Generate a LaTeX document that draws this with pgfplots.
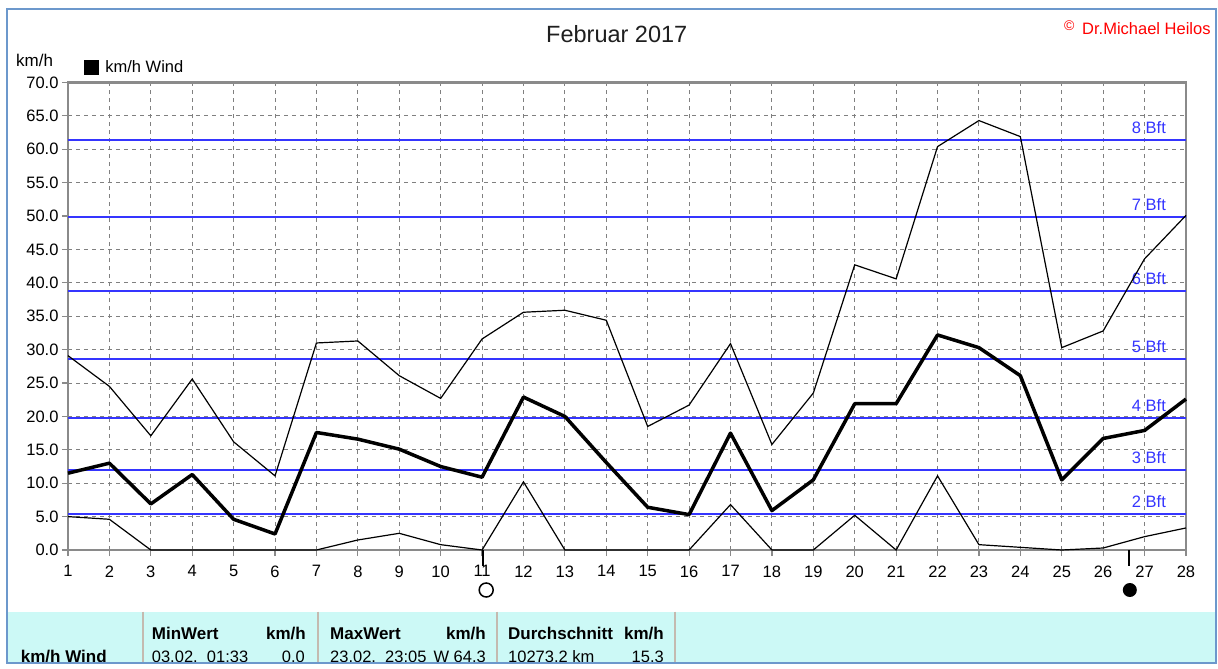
\documentclass[border=0pt]{standalone}
\usepackage{pgfplots}
\usepackage{pgfplotstable}
\usepackage{fontspec}
\setmainfont{Liberation Sans}
\pgfplotsset{compat=1.18}

\definecolor{frameblue}{HTML}{6C98CC}
\definecolor{axisgray}{HTML}{8A8A8A}
\definecolor{gridgray}{HTML}{808080}
\definecolor{bftblue}{HTML}{3535FF}
\definecolor{tablecyan}{HTML}{CCF9F6}
\definecolor{sepgray}{HTML}{C4BAB0}

% Tag, Max, Mittel, Min (km/h)
\pgfplotstableread{
day max mean min
1  29.1 11.5 5.0
2  24.5 13.0 4.6
3  17.1  6.9 0.0
4  25.6 11.3 0.0
5  16.2  4.6 0.0
6  11.1  2.4 0.0
7  31.0 17.6 0.0
8  31.3 16.6 1.5
9  26.1 15.1 2.5
10 22.7 12.5 0.8
11 31.6 10.9 0.0
12 35.6 22.9 10.2
13 35.9 20.0 0.0
14 34.4 13.1 0.0
15 18.5  6.4 0.0
16 21.7  5.3 0.0
17 30.9 17.5 6.8
18 15.8  5.9 0.0
19 23.5 10.5 0.0
20 42.7 21.9 5.2
21 40.6 21.9 0.0
22 60.4 32.2 11.1
23 64.3 30.3 0.8
24 61.9 26.1 0.4
25 30.3 10.5 0.0
26 32.8 16.7 0.3
27 43.6 17.9 2.0
28 50.1 22.6 3.3
}\wind

\newcommand{\fs}{\fontsize{16.5}{18}\selectfont}
\newcommand{\bft}[2]{%
  \draw[bftblue, line width=2pt] (axis cs:1,#1) -- (axis cs:28,#1);
  \node[anchor=base east, text=bftblue, font=\fs, inner sep=0pt] at (axis cs:27.52,#1) [yshift=6.5pt] {#2 Bft};}

\begin{document}
\begin{tikzpicture}
\fill[white] (0pt,0pt) rectangle (1218pt,-669pt);
\begin{axis}[
    at={(68pt,-550pt)}, anchor=south west,
    scale only axis, width=1118pt, height=467.5pt,
    xmin=1, xmax=28, ymin=0, ymax=70,
    xtick={1,...,28}, ytick={0,5,...,70},
    xtick pos=bottom, ytick pos=left,
    tick align=outside, major tick length=6pt,
    tick style={axisgray, line width=1.2pt},
    axis line style={draw=axisgray, line width=2.2pt},
    grid=major,
    major grid style={gridgray, line width=1pt, dash pattern=on 4pt off 4pt},
    ticklabel style={font=\fs},
    xticklabel style={yshift=-6pt},
    /pgf/number format/assume math mode=true,
    yticklabel style={/pgf/number format/.cd, fixed, fixed zerofill, precision=1},
    clip=false,
    legend style={draw=none, fill=none, inner sep=0pt, font=\fs,
        at={(axis description cs:0.0143,1.0332)}, anchor=west},
    legend image code/.code={\fill[black] (0pt,-7pt) rectangle (14pt,7pt);
        \path[draw=none] (14pt,0pt) -- (19pt,0pt);},
]
\bft{5.4}{2}
\bft{12.0}{3}
\bft{19.8}{4}
\bft{28.6}{5}
\bft{38.8}{6}
\bft{49.9}{7}
\bft{61.4}{8}
\addplot[black, line width=1.2pt, forget plot] table[x=day, y=max] {\wind};
\addplot[black, line width=1.2pt, forget plot] table[x=day, y=min] {\wind};
\addplot[black, line width=3.5pt, line join=round, forget plot] table[x=day, y=mean] {\wind};
\addlegendimage{black}
\addlegendentry{km/h Wind}
% Mondphasen
\draw[black, line width=1.5pt] (axis cs:11.02,0) -- ++(0pt,-16pt);
\draw[black, line width=1.5pt] (axis cs:11.1,0) ++(0pt,-40pt) circle[radius=7pt];
\draw[black, line width=1.5pt] (axis cs:26.62,0) -- ++(0pt,-16pt);
\fill[black] (axis cs:26.62,0) ++(1pt,-40pt) circle[radius=7pt];
\end{axis}

\begin{scope}[x=1pt, y=-1pt]
\node[anchor=base west, inner sep=0pt, text=black!88, font=\fontsize{23.5}{26}\selectfont] at (546,42.3) {Februar 2017};
\node[anchor=base west, inner sep=0pt, text=red, font=\fs] at (1082,34.3) {Dr.Michael Heilos};
\node[anchor=base west, inner sep=0pt, text=red, font=\fontsize{14}{15}\selectfont] at (1064,31) {©};
\node[anchor=base west, inner sep=0pt, font=\fontsize{17}{18}\selectfont] at (16,66.7) {km/h};
% Tabelle
\begin{scope}
\clip (0,0) rectangle (1218,663);
\fill[tablecyan] (8,611.5) rectangle (1216,663);
\foreach \sx in {143,318,497,675} \draw[sepgray, line width=2pt] (\sx,611.5) -- (\sx,663);
\begin{scope}[every node/.style={inner sep=0pt, font=\fs}]
\node[anchor=base west, font=\fontsize{17}{18}\selectfont\bfseries] at (20.7,662.5) {km/h Wind};
\node[anchor=base west, font=\fontsize{17}{18}\selectfont\bfseries] at (151.7,639.3) {MinWert};
\node[anchor=base east, font=\fontsize{17}{18}\selectfont\bfseries] at (306,639.3) {km/h};
\node[anchor=base west] at (151.7,662.5) {03.02.\ \ 01:33};
\node[anchor=base east] at (305,662.5) {0.0};
\node[anchor=base west, font=\fontsize{17}{18}\selectfont\bfseries] at (330,639.3) {MaxWert};
\node[anchor=base east, font=\fontsize{17}{18}\selectfont\bfseries] at (486,639.3) {km/h};
\node[anchor=base west] at (330,662.5) {23.02.\ \ 23:05};
\node[anchor=base east] at (486,662.5) {W 64.3};
\node[anchor=base west, font=\fontsize{17}{18}\selectfont\bfseries] at (508,639.3) {Durchschnitt};
\node[anchor=base east, font=\fontsize{17}{18}\selectfont\bfseries] at (664,639.3) {km/h};
\node[anchor=base west] at (508,662.5) {10273.2 km};
\node[anchor=base east] at (664,662.5) {15.3};
\end{scope}
\end{scope}
\draw[frameblue, line width=2pt] (7,9) rectangle (1216,663);
\end{scope}
\pgfresetboundingbox
\path (0pt,0pt) rectangle (1218pt,-669pt);
\end{tikzpicture}
\end{document}
